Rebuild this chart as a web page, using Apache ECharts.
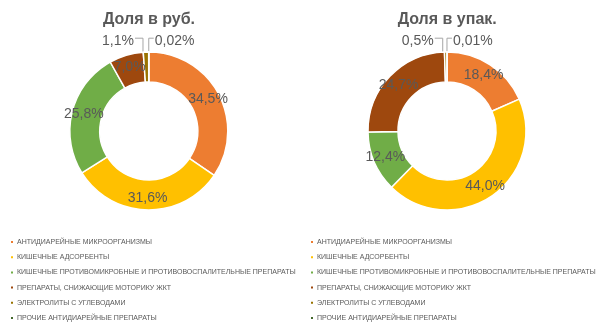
<!DOCTYPE html>
<html><head><meta charset="utf-8">
<script src="https://cdn.jsdelivr.net/npm/echarts@6/dist/echarts.min.js"></script>
<style>html,body{margin:0;padding:0;background:#fff}#c{width:600px;height:329px}</style>
</head><body><div id="c"></div>
<script>
const categories = [
  'АНТИДИАРЕЙНЫЕ МИКРООРГАНИЗМЫ',
  'КИШЕЧНЫЕ АДСОРБЕНТЫ',
  'КИШЕЧНЫЕ ПРОТИВОМИКРОБНЫЕ И ПРОТИВОВОСПАЛИТЕЛЬНЫЕ ПРЕПАРАТЫ',
  'ПРЕПАРАТЫ, СНИЖАЮЩИЕ МОТОРИКУ ЖКТ',
  'ЭЛЕКТРОЛИТЫ С УГЛЕВОДАМИ',
  'ПРОЧИЕ АНТИДИАРЕЙНЫЕ ПРЕПАРАТЫ'
];
const colors = ['#ED7D31', '#FFC000', '#70AD47', '#9E480E', '#997300', '#43682B'];
const titles = ['Доля в руб.', 'Доля в упак.'];
const shareRub = [34.5, 31.6, 25.8, 7.0, 1.1, 0.02];
const sharePack = [18.4, 44.0, 12.4, 24.7, 0.5, 0.01];

const FONT = 'Liberation Sans';
const TXT = '#595959';

function fmt(v) {
  return (v < 0.1 ? v.toFixed(2) : v.toFixed(1)).replace('.', ',') + '%';
}
function buildData(vals) {
  return vals.map((v, i) => {
    const item = { name: categories[i], value: v, itemStyle: { color: colors[i] } };
    if (i >= 4) {
      item.label = { position: 'outside' };
      item.labelLine = { show: true };
    }
    return item;
  });
}
function smallLayout(params) {
  if (params.dataIndex < 4) return {};
  const r = params.rect;
  const ax = r.x + r.width / 2, ay = r.y;
  const up = 13;
  const left = params.dataIndex === 4;
  const run = left ? 8 : 5;
  const vx = left ? ax - 3 : ax;
  const ex = left ? vx - run : vx + run;
  return {
    x: left ? ex - 1 : ex + 1,
    y: ay - up + 2.5,
    align: left ? 'right' : 'left',
    verticalAlign: 'middle',
    labelLinePoints: [[vx, ay + 4], [vx, ay - up], [ex, ay - up]]
  };
}
function pie(vals, cx) {
  return {
    type: 'pie',
    center: [cx, '39.8%'],
    radius: [49, 79],
    startAngle: 90,
    clockwise: true,
    avoidLabelOverlap: false,
    animation: false,
    emphasis: { disabled: true },
    itemStyle: { borderColor: '#fff', borderWidth: 1.5 },
    label: {
      show: true, position: 'inside', color: TXT,
      fontFamily: FONT, fontSize: 14,
      formatter: p => fmt(p.value)
    },
    labelLine: { show: false, lineStyle: { color: '#A6A6A6', width: 1 }, length: 12, length2: 5 },
    labelLayout: smallLayout,
    data: buildData(vals)
  };
}
function legend(left) {
  return {
    orient: 'vertical', left: left, top: 232,
    data: categories,
    icon: 'rect', itemWidth: 4, itemHeight: 4, itemGap: 5.2,
    selectedMode: false,
    textStyle: { color: TXT, fontFamily: FONT, fontSize: 7, lineHeight: 10, padding: [0, 0, 0, -2] }
  };
}
const chart = echarts.init(document.getElementById('c'), null, { renderer: 'canvas' });
chart.setOption({
  backgroundColor: '#fff',
  animation: false,
  title: [
    { text: titles[0], left: '24%', top: 7, textAlign: 'center',
      textStyle: { color: TXT, fontFamily: FONT, fontSize: 16, fontWeight: 'bold' } },
    { text: titles[1], left: '73.7%', top: 7, textAlign: 'center',
      textStyle: { color: TXT, fontFamily: FONT, fontSize: 16, fontWeight: 'bold' } }
  ],
  legend: [legend(4), legend(304)],
  series: [pie(shareRub, '24.8%'), pie(sharePack, '74.5%')]
});
</script>
</body></html>
